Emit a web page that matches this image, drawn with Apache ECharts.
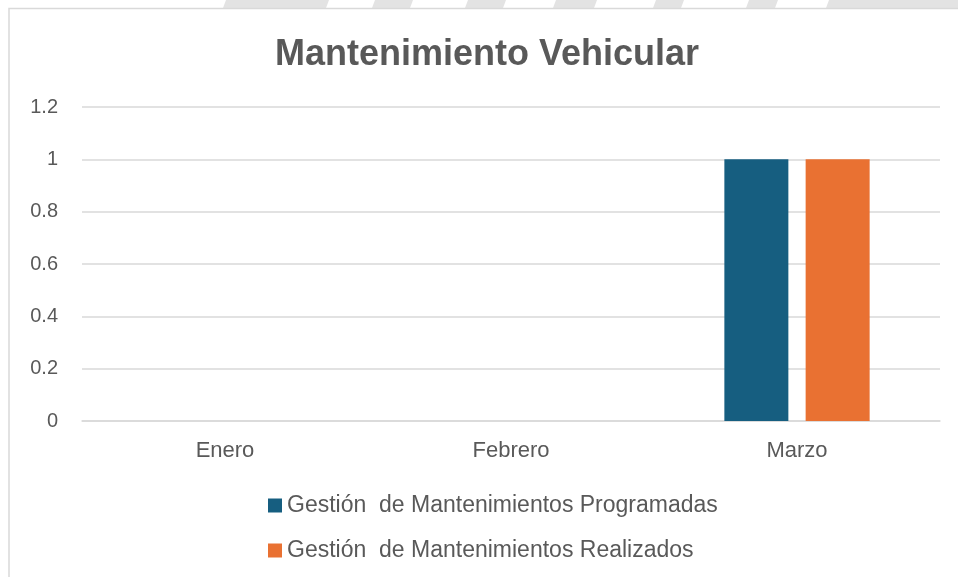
<!DOCTYPE html>
<html><head><meta charset="utf-8">
<script src="https://cdn.jsdelivr.net/npm/echarts@6/dist/echarts.min.js"></script>
<style>html,body{margin:0;padding:0;background:#fff;}#c{width:958px;height:577px;}</style>
</head><body><div id="c"></div>
<script>
const categories = ['Enero', 'Febrero', 'Marzo'];
const programadas = [0, 0, 1];
const realizados = [0, 0, 1];
const seriesNames = ['Gestión  de Mantenimientos Programadas', 'Gestión  de Mantenimientos Realizados'];
const yTicks = { min: 0, max: 1.2, interval: 0.2 };

const FONT = '"Liberation Sans", Arial, sans-serif';
const chart = echarts.init(document.getElementById('c'));

const stripes = [[223,326],[372,410],[465,503],[553,594],[653,681],[746,775],[826,958]];
const graphics = stripes.map(s => ({
  type: 'polygon', silent: true,
  shape: { points: [[s[0]+3,0],[s[1]+3,0],[s[1],8],[s[0],8]] },
  style: { fill: '#e3e3e3' }
}));
graphics.push({ type: 'rect', silent: true, shape: { x: 9, y: 8.5, width: 1000, height: 600 },
  style: { fill: 'none', stroke: '#d9d9d9', lineWidth: 1.5 } });

chart.setOption({
  backgroundColor: '#fff',
  animation: false,
  graphic: graphics,
  title: {
    text: 'Mantenimiento Vehicular', left: 275, top: 37, padding: 0,
    textStyle: { fontFamily: FONT, fontSize: 36, fontWeight: 'bold', color: '#595959' }
  },
  legend: {
    orient: 'vertical', left: 268, top: 494, itemGap: 22, padding: 0,
    itemWidth: 14, itemHeight: 14, icon: 'rect',
    textStyle: { fontFamily: FONT, fontSize: 23, color: '#595959' },
    data: seriesNames
  },
  grid: { left: 82, right: 18, top: 107, bottom: 156, containLabel: false },
  xAxis: {
    type: 'category', data: categories,
    axisLine: { lineStyle: { color: '#d9d9d9', width: 1.5 } },
    axisTick: { show: false },
    axisLabel: { fontFamily: FONT, fontSize: 22, color: '#595959', margin: 19 }
  },
  yAxis: {
    type: 'value', min: yTicks.min, max: yTicks.max, interval: yTicks.interval,
    axisLine: { show: false }, axisTick: { show: false },
    splitLine: { lineStyle: { color: '#d9d9d9', width: 1.5 } },
    axisLabel: { fontFamily: FONT, fontSize: 20, color: '#595959', margin: 24,
      formatter: v => (Math.round(v * 10) / 10).toString() }
  },
  series: [
    { name: seriesNames[0], type: 'bar', data: programadas, barWidth: 64, barGap: '27%',
      itemStyle: { color: '#165e80' } },
    { name: seriesNames[1], type: 'bar', data: realizados, barWidth: 64,
      itemStyle: { color: '#e97132' } }
  ]
});
</script></body></html>
